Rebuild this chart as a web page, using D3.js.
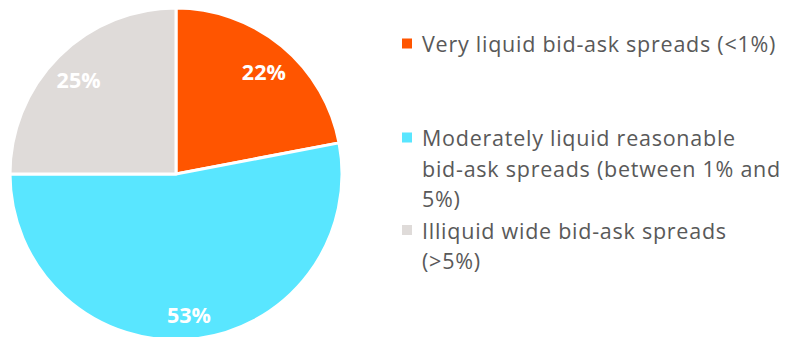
<!DOCTYPE html>
<html>
<head>
<meta charset="utf-8">
<script src="https://cdn.jsdelivr.net/npm/d3@7"></script>
<style>
  html, body { margin: 0; padding: 0; background: #fff; }
  svg { display: block; }
</style>
</head>
<body>
<svg id="chart" width="790" height="337"></svg>
<script>
// Share of holdings by bid-ask spread liquidity bucket
const categories = [
  "Very liquid bid-ask spreads (<1%)",
  "Moderately liquid reasonable bid-ask spreads (between 1% and 5%)",
  "Illiquid wide bid-ask spreads (>5%)"
];
const values = [22, 53, 25];
const colors = ["#FF5500", "#59E6FF", "#DFDBD9"];
// Legend text wrapped into display lines
const legendLines = [
  ["Very liquid bid-ask spreads (<1%)"],
  ["Moderately liquid reasonable", "bid-ask spreads (between 1% and", "5%)"],
  ["Illiquid wide bid-ask spreads", "(>5%)"]
];

const svg = d3.select("#chart");
const cx = 176, cy = 174, R = 166;

const data = categories.map((c, i) => ({ name: c, value: values[i], color: colors[i] }));
const pie = d3.pie().value(d => d.value).sort(null);
const arcs = pie(data);
const arc = d3.arc().innerRadius(0).outerRadius(R);
const labelArc = d3.arc().innerRadius(R * 0.83).outerRadius(R * 0.83);

const g = svg.append("g").attr("transform", `translate(${cx},${cy})`);
g.selectAll("path.slice")
  .data(arcs)
  .join("path")
  .attr("class", "slice")
  .attr("d", arc)
  .attr("fill", d => d.data.color)
  .attr("stroke", "#fff")
  .attr("stroke-width", 3)
  .attr("stroke-linejoin", "round");

g.selectAll("text.pct")
  .data(arcs)
  .join("text")
  .attr("class", "pct")
  .attr("transform", d => { const [x, y] = labelArc.centroid(d); return `translate(${x},${y + 4})`; })
  .attr("text-anchor", "middle")
  .attr("dy", "0.36em")
  .attr("fill", "#fff")
  .attr("font-family", "'Open Sans', sans-serif")
  .attr("font-weight", "bold")
  .attr("font-size", 21.5)
  .text(d => d.data.value + "%");

// Legend
const legendX = 402, textX = 422, lineH = 30.5;
const itemBaselines = [52, 146, 238.5];
const legend = svg.append("g");
legendLines.forEach((lines, i) => {
  const item = legend.append("g");
  item.append("rect")
    .attr("x", legendX).attr("y", itemBaselines[i] - 13.5)
    .attr("width", 10).attr("height", 10)
    .attr("fill", colors[i]);
  item.append("text")
    .attr("font-family", "'Open Sans', sans-serif")
    .attr("font-size", 21.5)
    .attr("letter-spacing", 0.75)
    .attr("fill", "#595959")
    .selectAll("tspan")
    .data(lines)
    .join("tspan")
    .attr("x", textX)
    .attr("y", (d, j) => itemBaselines[i] + j * lineH)
    .text(d => d);
});
</script>
</body>
</html>
